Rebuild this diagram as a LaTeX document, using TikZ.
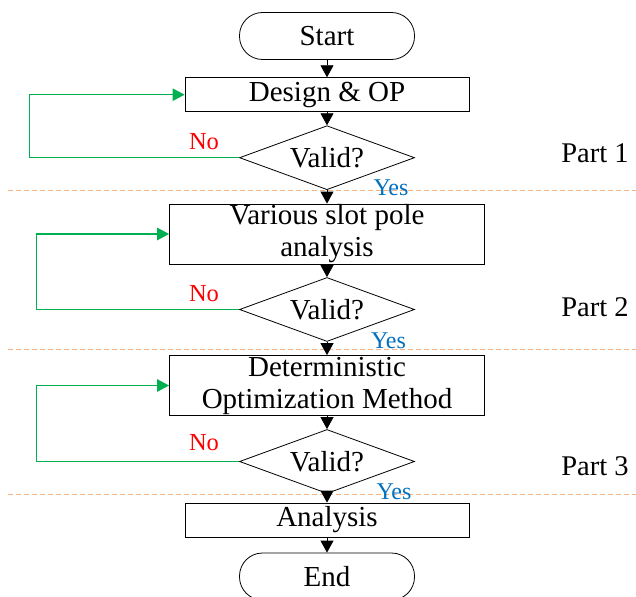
\documentclass[tikz,border=0pt]{standalone}
\usepackage{fontspec}
\setmainfont{Liberation Serif}
\usetikzlibrary{shapes.geometric,arrows.meta}
\definecolor{loopgreen}{HTML}{00B050}
\definecolor{yesblue}{HTML}{0070C0}
\definecolor{partorange}{HTML}{F4B183}

\begin{document}
\begin{tikzpicture}[x=1pt, y=-1pt, node distance=76pt,
  font=\fontsize{29}{32}\selectfont,
  term node/.style={draw, rectangle, rounded corners=23pt, minimum width=175pt, minimum height=47pt, line width=0.8pt},
  proc node/.style={draw, rectangle, minimum width=284pt, minimum height=34pt, inner sep=0pt, line width=0.8pt},
  wide node/.style={proc node, minimum width=315pt, minimum height=60pt, align=center},
  test node/.style={draw, diamond, aspect=2.7, inner sep=1pt, minimum width=175pt, minimum height=64pt, line width=0.8pt},
  flow/.style={-{Triangle[width=13pt,length=12pt]}, line width=0.8pt},
  back/.style={-{Triangle[width=12.5pt,length=12pt]}, color=loopgreen, line width=1.1pt},
  part line/.style={draw=partorange, dash pattern=on 5pt off 3pt, line width=0.8pt},
  no label/.style={text=red, font=\fontsize{24.5}{28}\selectfont},
  yes label/.style={text=yesblue, font=\fontsize{24}{28}\selectfont},
  part label/.style={font=\fontsize{28.5}{32}\selectfont}]
\useasboundingbox (0,0) rectangle (636,596);
\node[term node]                                      (start)    at (327,36) {Start};
\node[proc node, below of=start, node distance=58.7pt] (design)  {Design \& OP};
\node[test node, below of=design, node distance=63pt]  (valid1)  {Valid?};
\node[wide node, below of=valid1, node distance=76.3pt] (slot)   {Various slot pole\\analysis};
\node[test node, below of=slot, node distance=75.5pt]  (valid2)  {Valid?};
\node[wide node, below of=valid2]                      (method)  {Deterministic\\Optimization Method};
\node[test node, below of=method]                      (valid3)  {Valid?};
\node[proc node, below of=valid3, node distance=58.5pt] (analysis) {Analysis};
\node[term node, below of=analysis, node distance=56.5pt] (end)  {End};
% part borders
\draw[part line] (8,190.7) -- (636,190.7);
\draw[part line] (8,349) -- (636,349);
\draw[part line] (8,494.3) -- (636,494.3);
\foreach \a/\b in {start/design, design/valid1, valid1/slot, slot/valid2,
  valid2/method, method/valid3, valid3/analysis, analysis/end}
  \draw[flow] (\a) -- (\b);
% loops back
\draw[back] (valid1.west) -- ++(-209.5,0) |- (design.west);
\draw[back] (valid2.west) -- ++(-202.5,0) |- (slot.west);
\draw[back] (valid3.west) -- ++(-202.5,0) |- (method.west);
\node[no label] (no1) at (204,142) {No};
\node[no label] (no2) at (204,294) {No};
\node[no label] (no3) at (204,443) {No};
\node[yes label] (yes1) at (391,188) {Yes};
\node[yes label] (yes2) at (388.5,340.7) {Yes};
\node[yes label] (yes3) at (394,491.7) {Yes};
\node[part label] (part1) at (595,153) {Part 1};
\node[part label] (part2) at (595,307) {Part 2};
\node[part label] (part3) at (595,466) {Part 3};
\end{tikzpicture}
\end{document}
